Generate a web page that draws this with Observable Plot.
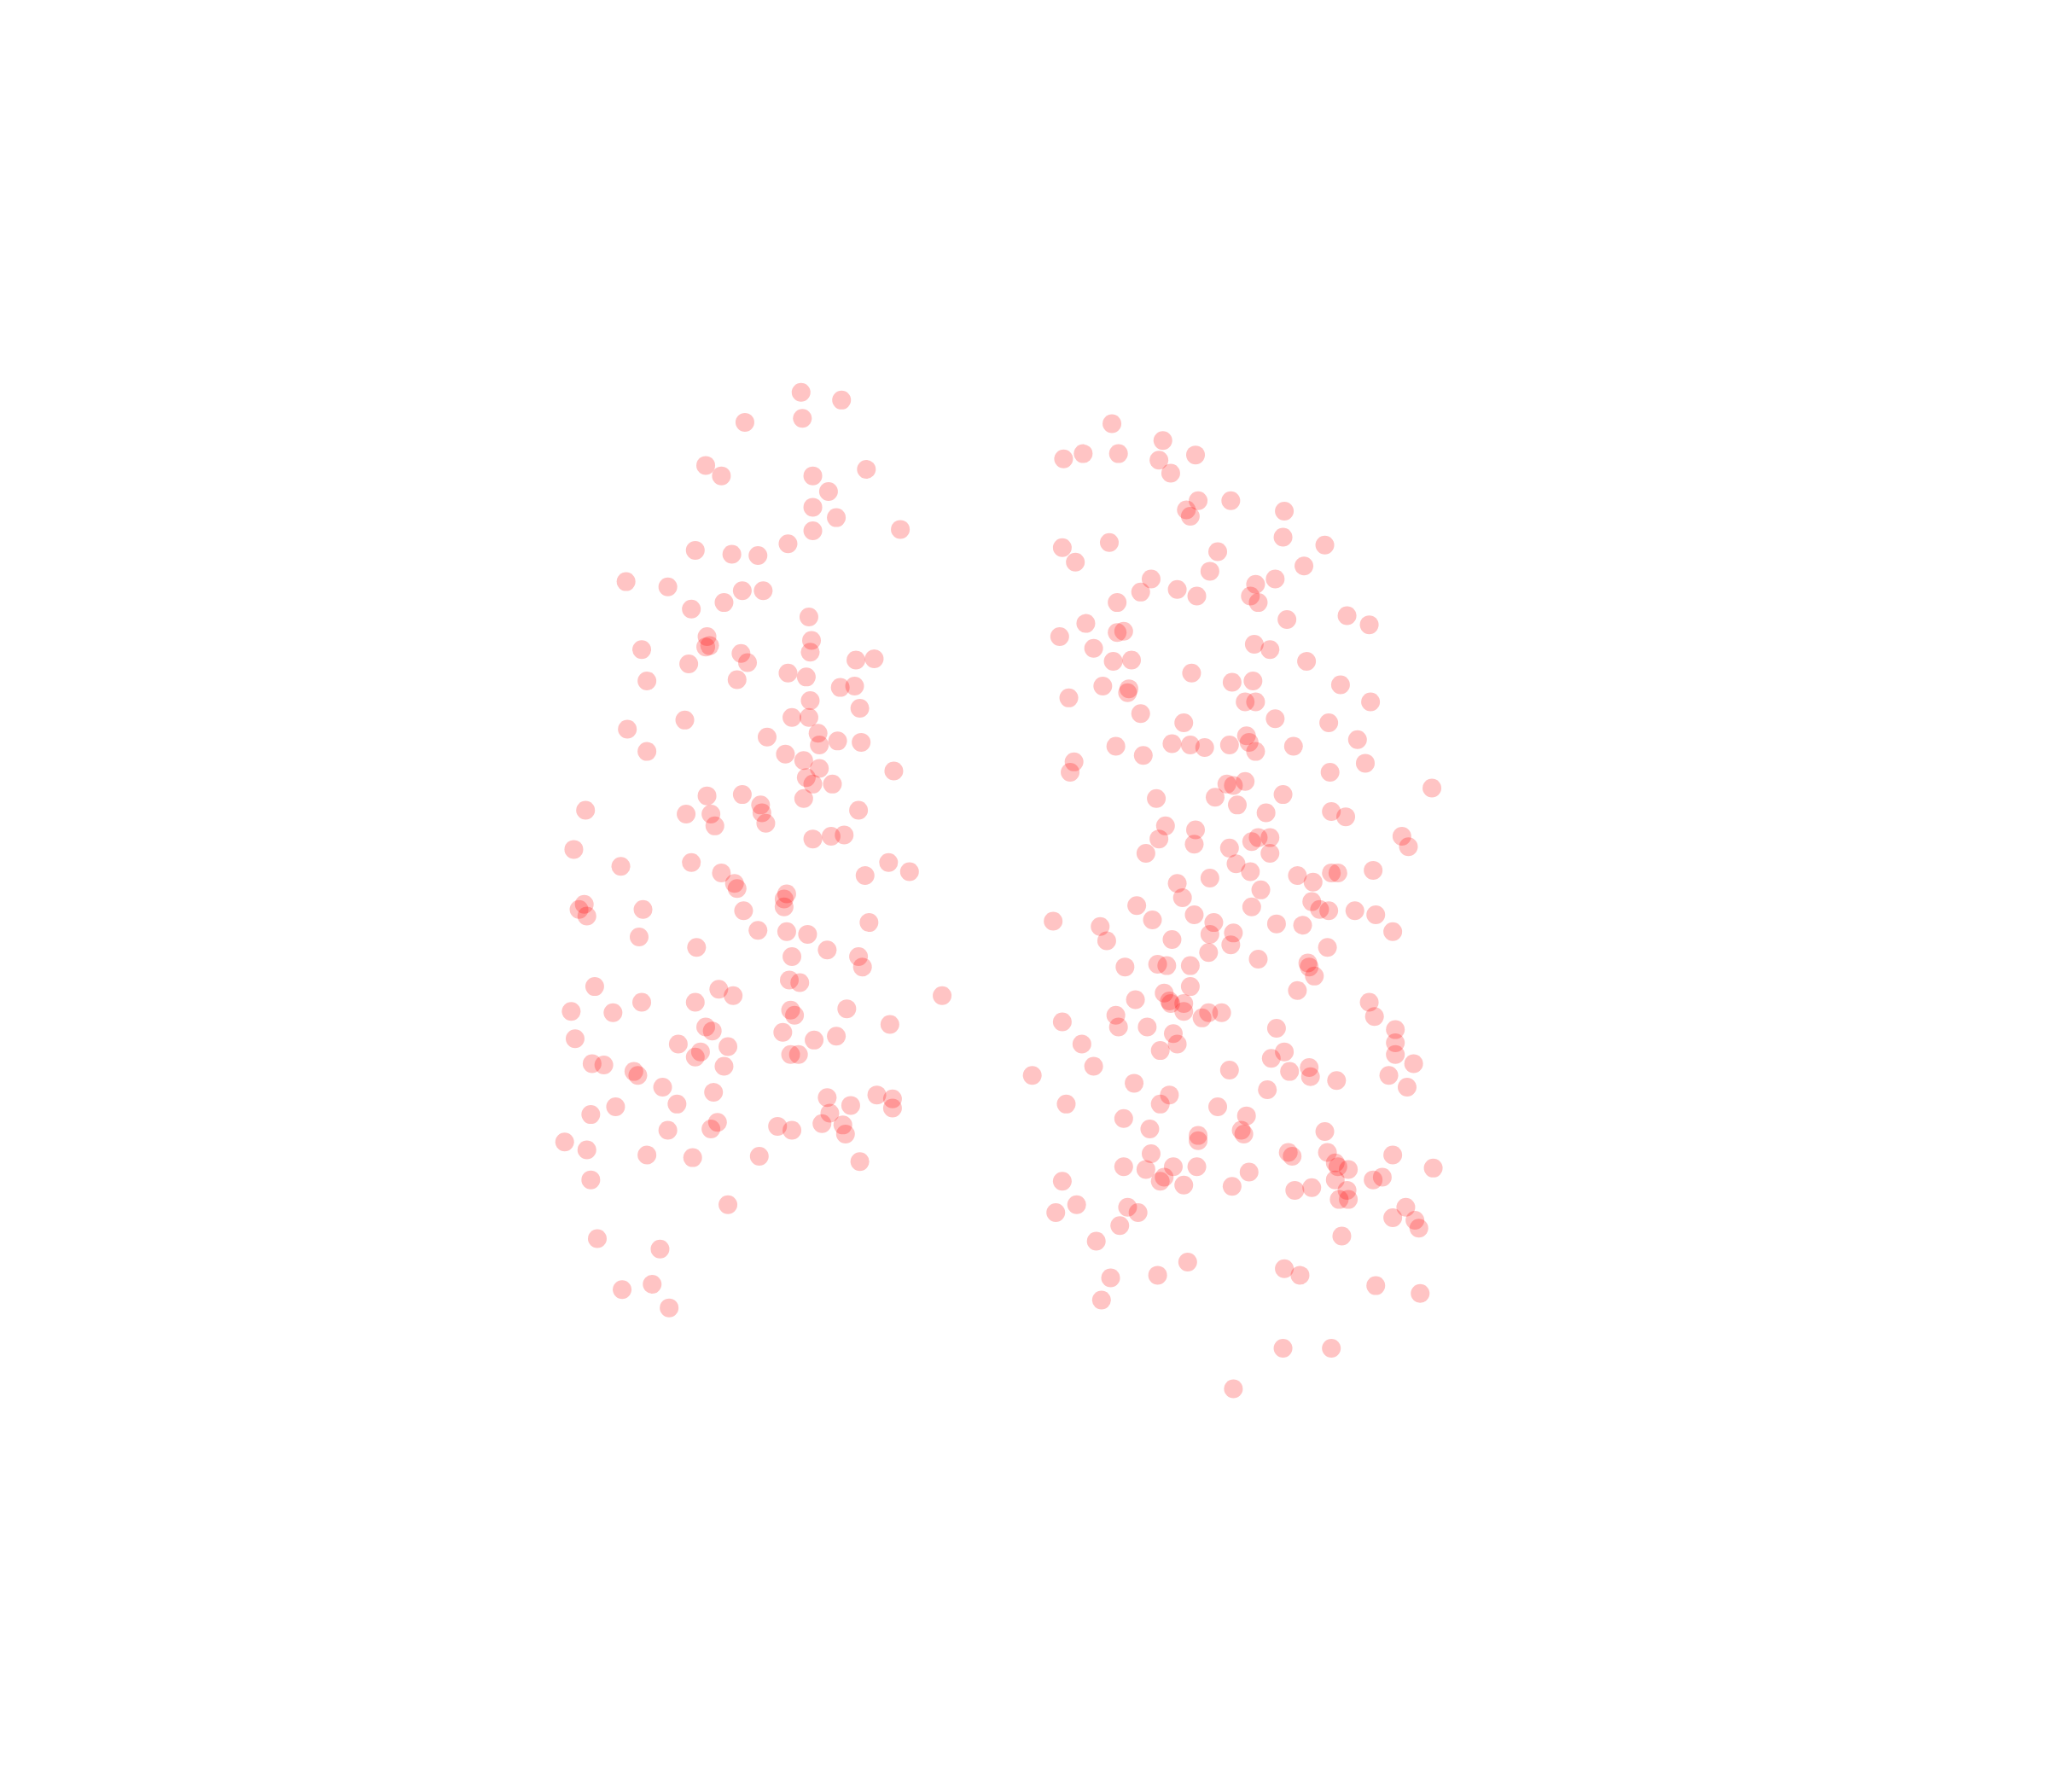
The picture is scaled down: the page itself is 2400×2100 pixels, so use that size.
<!DOCTYPE html>
<html><head><meta charset="utf-8">
<script src="https://cdn.jsdelivr.net/npm/d3@7"></script>
<script src="https://cdn.jsdelivr.net/npm/@observablehq/plot@0.6"></script>
<style>html,body{margin:0;padding:0;background:#fff}svg{display:block}</style>
</head><body><div id="chart"></div>
<script>
const leftCluster = [[613,300],[644,306],[570,323],[614,320],[540,356],[552,364],[622,364],[663,359],[634,376],[622,388],[640,396],[622,406],[603,416],[689,405],[532,421],[560,424],[580,425],[479,445],[511,449],[568,452],[584,452],[554,461],[529,466],[619,472],[541,487],[621,490],[620,499],[540,495],[543,494],[491,497],[567,500],[572,507],[527,508],[655,505],[669,504],[603,515],[617,518],[495,521],[564,520],[643,526],[654,525],[620,536],[658,542],[524,551],[606,549],[619,549],[480,558],[587,564],[626,561],[627,570],[641,567],[659,568],[495,575],[601,577],[615,582],[627,588],[684,590],[617,595],[622,600],[637,600],[541,609],[568,608],[615,611],[582,616],[583,622],[448,620],[525,623],[544,623],[547,632],[586,630],[657,620],[622,642],[636,640],[646,639],[439,650],[529,660],[475,663],[552,668],[562,676],[564,680],[662,670],[680,660],[696,667],[602,684],[600,688],[600,694],[447,692],[443,696],[449,701],[492,696],[569,697],[665,706],[580,712],[602,713],[618,715],[489,717],[533,725],[633,727],[606,732],[657,732],[660,740],[604,750],[612,752],[455,755],[550,757],[561,762],[721,762],[532,767],[491,767],[437,774],[469,775],[605,773],[608,777],[648,772],[540,786],[545,789],[681,784],[599,790],[623,796],[640,793],[440,795],[519,799],[557,801],[536,805],[532,809],[605,807],[611,807],[453,814],[462,815],[554,816],[485,820],[488,823],[507,832],[546,836],[633,840],[671,838],[683,841],[518,845],[471,847],[651,846],[683,848],[452,853],[635,852],[549,859],[544,864],[511,865],[595,862],[606,865],[629,860],[645,861],[647,868],[432,874],[449,880],[495,884],[530,886],[581,885],[658,889],[452,903],[557,922],[457,948],[505,956],[499,983],[476,987],[512,1001]];
const rightCluster = [[851,324],[890,337],[814,351],[829,347],[856,347],[887,352],[915,348],[896,362],[917,383],[942,383],[908,390],[911,395],[983,391],[982,411],[1014,417],[813,419],[849,415],[823,430],[932,422],[926,437],[998,433],[881,443],[976,443],[961,447],[873,453],[901,451],[916,456],[957,456],[963,461],[855,461],[985,474],[1031,471],[1048,478],[831,477],[811,487],[855,484],[860,483],[837,496],[960,493],[972,497],[852,506],[866,505],[1000,506],[912,515],[943,522],[959,521],[1026,524],[844,525],[864,527],[863,530],[818,534],[953,537],[961,537],[1049,537],[873,546],[906,553],[976,550],[1017,553],[954,563],[1039,566],[854,571],[897,569],[911,570],[922,572],[941,570],[956,568],[961,575],[990,571],[875,578],[822,583],[819,591],[1045,584],[1018,591],[939,600],[944,601],[953,598],[1096,603],[885,611],[930,610],[982,608],[947,616],[969,622],[1019,621],[1030,625],[892,632],[915,635],[887,642],[914,646],[958,644],[963,641],[972,641],[1073,640],[1078,648],[877,653],[941,649],[972,653],[946,661],[957,667],[993,670],[1019,668],[1024,668],[1051,666],[926,672],[1005,675],[901,676],[965,681],[905,687],[1004,690],[870,693],[958,694],[1010,696],[1017,697],[1037,697],[1053,700],[914,700],[806,705],[882,704],[842,709],[929,706],[977,707],[997,708],[1066,713],[926,715],[944,714],[847,720],[897,719],[942,723],[1016,725],[925,729],[963,734],[861,740],[886,738],[893,739],[911,739],[1001,737],[1002,740],[1006,747],[911,755],[993,758],[891,760],[869,765],[895,766],[896,768],[906,768],[906,774],[925,775],[935,775],[1048,767],[1052,778],[854,777],[920,779],[813,782],[856,786],[878,786],[977,787],[1068,788],[898,791],[1068,798],[828,799],[901,799],[888,804],[983,805],[1068,807],[973,810],[1082,814],[837,816],[941,819],[987,820],[1002,817],[1003,824],[1063,823],[1023,827],[790,823],[868,829],[970,834],[1077,832],[895,838],[888,845],[816,845],[932,847],[860,856],[954,854],[880,864],[1014,866],[950,865],[952,868],[917,869],[917,873],[881,883],[986,882],[989,885],[1016,882],[1066,884],[860,893],[877,895],[898,893],[916,893],[956,897],[1022,890],[1024,893],[1032,895],[1097,894],[888,904],[891,901],[906,907],[943,908],[1022,903],[1051,903],[1058,901],[813,904],[991,911],[1004,909],[1031,911],[1032,918],[1025,918],[824,922],[863,924],[871,928],[808,928],[1076,924],[1066,932],[1083,934],[1086,940],[857,938],[1027,946],[839,950],[909,966],[983,971],[995,976],[886,976],[850,978],[1053,984],[1087,990],[843,995],[982,1032],[1019,1032],[944,1063]];
const xDomain = [0, 1568];
const yDomain = [1372, 0];
const points = leftCluster.concat(rightCluster);
const chart = Plot.plot({
  width: 2400, height: 2100,
  marginTop: 0, marginRight: 0, marginBottom: 0, marginLeft: 0,
  style: {background: "#fff"},
  x: {axis: null, domain: xDomain},
  y: {axis: null, domain: yDomain},
  marks: [
    Plot.dot(points, {x: d => d[0], y: d => d[1], r: 11, fill: "#ff0000", fillOpacity: 0.23, stroke: "none"})
  ]
});
document.getElementById("chart").appendChild(chart);
</script>
</body></html>
